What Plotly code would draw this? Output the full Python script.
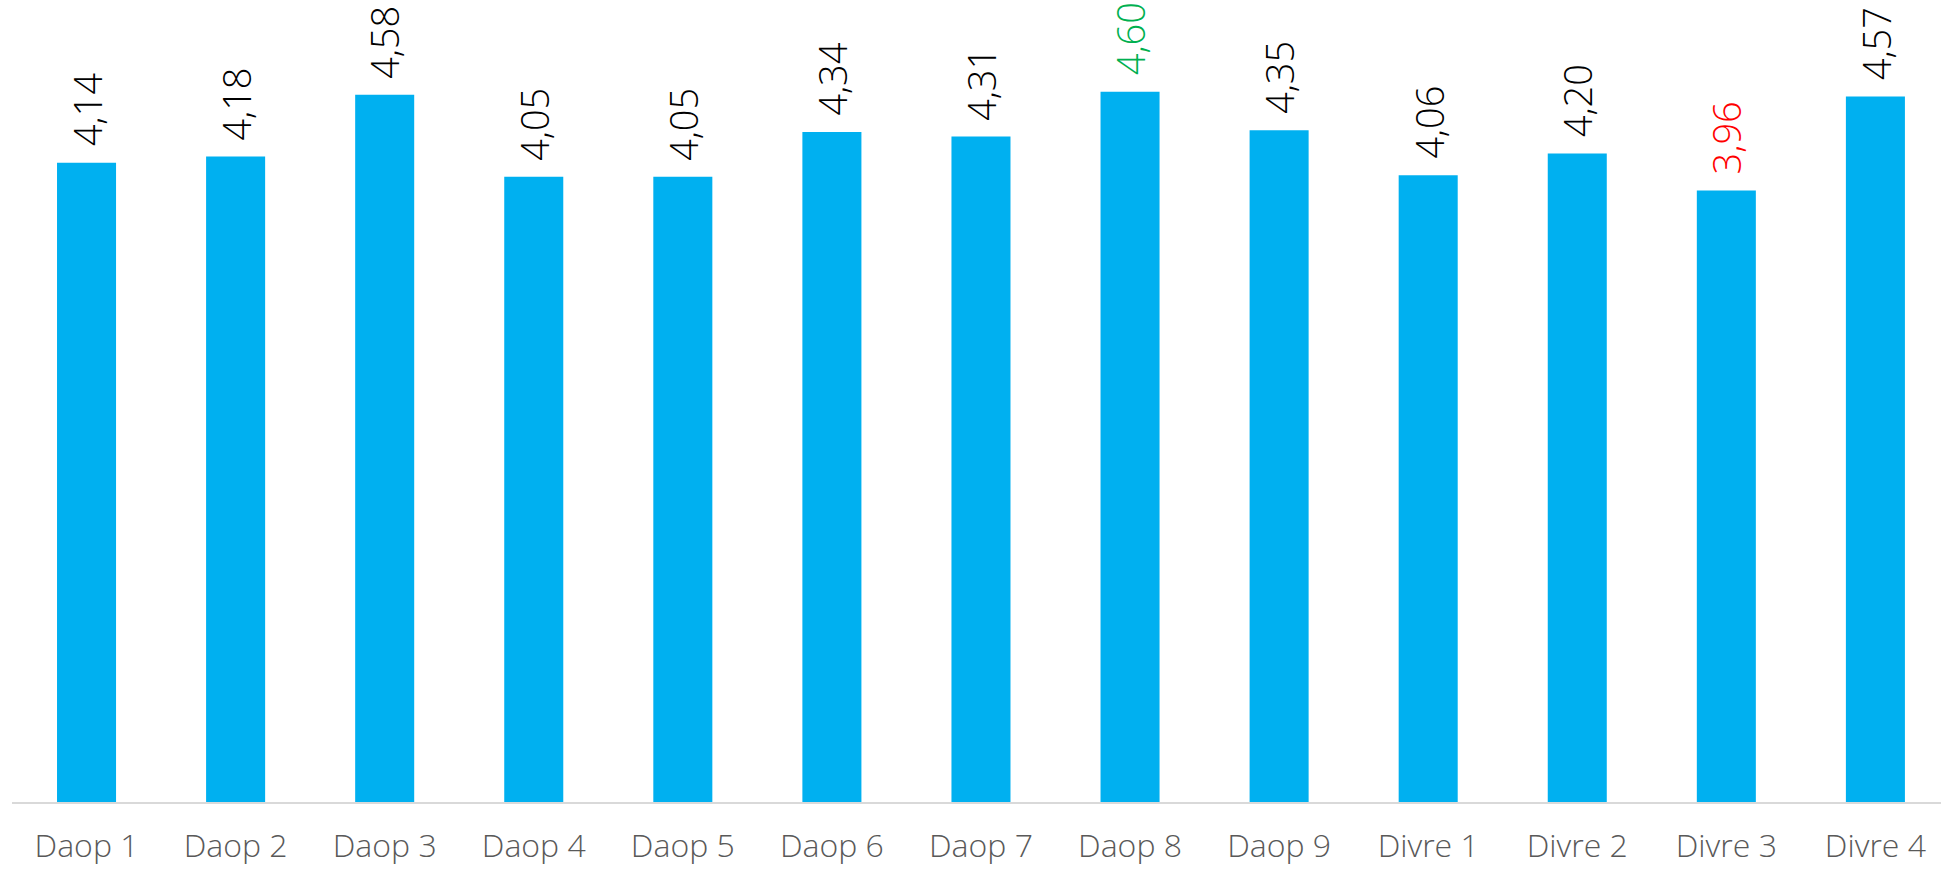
import plotly.graph_objects as go

# Average score per operational area
categories = ["Daop 1", "Daop 2", "Daop 3", "Daop 4", "Daop 5", "Daop 6", "Daop 7",
              "Daop 8", "Daop 9", "Divre 1", "Divre 2", "Divre 3", "Divre 4"]
scores = [4.14, 4.18, 4.58, 4.05, 4.05, 4.34, 4.31, 4.60, 4.35, 4.06, 4.20, 3.96, 4.57]

BAR_COLOR = "#00B0F0"
HIGH_COLOR = "#00B050"
LOW_COLOR = "#FF0000"
FONT = "Open Sans"

best = max(scores)
worst = min(scores)


def label_color(v):
    if v == best:
        return HIGH_COLOR
    if v == worst:
        return LOW_COLOR
    return "#000000"


fig = go.Figure(
    go.Bar(
        x=categories,
        y=scores,
        marker=dict(color=BAR_COLOR, line=dict(width=0)),
        width=0.396,
        hoverinfo="x+y",
    )
)

# Rotated value labels above each bar (decimal comma)
for cat, v in zip(categories, scores):
    fig.add_annotation(
        x=cat,
        y=v,
        xref="x",
        yref="y",
        text=f"{v:.2f}".replace(".", ","),
        textangle=-90,
        showarrow=False,
        xanchor="center",
        yanchor="bottom",
        yshift=14,
        font=dict(family=FONT, size=38, color=label_color(v), weight=300),
    )

fig.update_layout(
    width=1941,
    height=869,
    margin=dict(l=12, r=0, t=30, b=67, autoexpand=False),
    paper_bgcolor="white",
    plot_bgcolor="white",
    showlegend=False,
    bargap=0.6,
    xaxis=dict(
        type="category",
        range=[-0.5, 12.44],
        automargin=False,
        showline=True,
        linecolor="#D9D9D9",
        linewidth=2,
        showgrid=False,
        ticks="",
        ticklabelstandoff=15,
        tickfont=dict(family=FONT, size=32, color="#595959", weight=300),
        fixedrange=True,
    ),
    yaxis=dict(
        range=[0, 5],
        visible=False,
        automargin=False,
        showgrid=False,
        zeroline=False,
        fixedrange=True,
    ),
)

fig.write_html("out.html")
